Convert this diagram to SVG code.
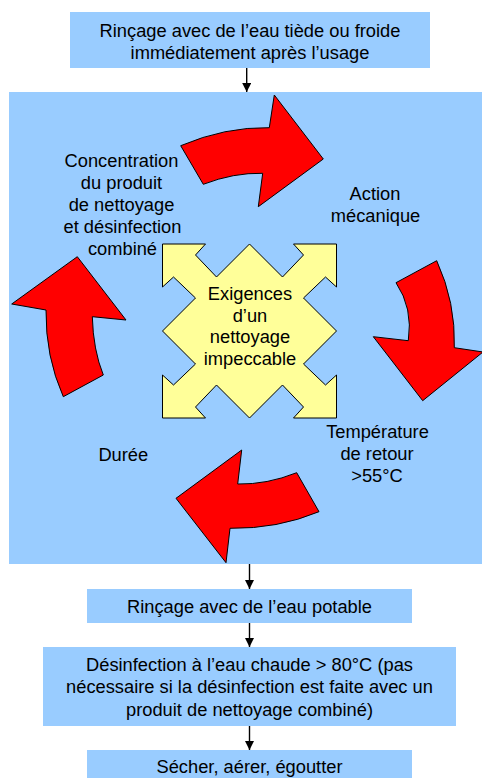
<svg xmlns="http://www.w3.org/2000/svg" width="482" height="778" viewBox="0 0 482 778">
<defs>
<style>
.box{fill:#99CCFF;stroke:none}
.t{font-family:"Liberation Sans",Arial,sans-serif;font-size:18.3px;fill:#000;text-anchor:middle}
.red{fill:#FF0000;stroke:#000;stroke-width:1;stroke-linejoin:miter}
.yel{fill:#FFFF99;stroke:#000;stroke-width:1}
.con{stroke:#000;stroke-width:1.4;fill:none}
</style>
<marker id="ah" viewBox="0 0 10 10" refX="10" refY="5" markerWidth="9" markerHeight="9" markerUnits="userSpaceOnUse" orient="auto">
<path d="M0,0 L10,5 L0,10 z" fill="#000"/>
</marker>
</defs>
<rect width="482" height="778" fill="#fff"/>

<g id="panel">
<rect class="box" x="9" y="92" width="474" height="472"/>
</g>

<g id="n-rincage-tiede">
<rect class="box" x="70" y="12" width="360" height="56"/>
<text class="t" x="250" y="36.5">Rinçage avec de l’eau tiède ou froide</text>
<text class="t" x="250" y="58.5">immédiatement après l’usage</text>
</g>

<g id="cycle-arrows">
<path id="arrow-top" class="red" d="M180.7,145.7 Q225,126.8 269.3,127.7 L274.3,95 L323.3,159 L258.3,206.7 L262.7,173.3 Q233.6,172.6 203.3,184.3 Z"/>
<path id="arrow-right" class="red" d="M396,282.7 L436.7,260.7 Q455.8,302.4 454.3,347.7 L483,352 L422.7,400.7 L373.3,336.7 L408.3,340.7 Q413.2,308.2 396,282.7 Z"/>
<path id="arrow-bottom" class="red" d="M319,511.7 Q277.5,529 230,528.3 L226,562.7 L176,498.3 L241.7,450 L237.7,484 Q267,484.6 296.7,472.7 Z"/>
<path id="arrow-left" class="red" d="M63.3,396.7 Q45.4,356.6 46,310 L11.7,304 L77.3,256.7 L126,320 L92.3,316.7 Q93.2,350 103.3,375 Z"/>
</g>

<g id="n-exigences">
<polygon class="yel" points="249.5,244 282.5,277 303.5,255 293.5,244 336.5,244 336.5,287 325.5,277 303.5,298 336.5,331 303.5,364 325.5,385 336.5,375 336.5,418 293.5,418 303.5,407 282.5,385 249.5,418 216.5,385 195.5,407 205.5,418 162.5,418 162.5,375 173.5,385 195.5,364 162.5,331 195.5,298 173.5,277 162.5,287 162.5,244 205.5,244 195.5,255 216.5,277"/>
<text class="t" x="250" y="300">Exigences</text>
<text class="t" x="250" y="321.7">d’un</text>
<text class="t" x="250" y="343.3">nettoyage</text>
<text class="t" x="250" y="365">impeccable</text>
</g>

<g id="n-concentration">
<text class="t" x="121.5" y="166.7">Concentration</text>
<text class="t" x="121.5" y="188.7">du produit</text>
<text class="t" x="121.5" y="210.7">de nettoyage</text>
<text class="t" x="122.5" y="233">et désinfection</text>
<text class="t" x="122.5" y="255">combiné</text>
</g>

<g id="n-action">
<text class="t" x="375" y="200">Action</text>
<text class="t" x="375.5" y="221.5">mécanique</text>
</g>

<g id="n-temperature">
<text class="t" x="377.5" y="438.3">Température</text>
<text class="t" x="377" y="460">de retour</text>
<text class="t" x="377" y="482.3">&gt;55°C</text>
</g>

<g id="n-duree">
<text class="t" x="123.3" y="460.7">Durée</text>
</g>

<g id="n-rincage-potable">
<rect class="box" x="87" y="589" width="325" height="34"/>
<text class="t" x="249.5" y="612.5">Rinçage avec de l’eau potable</text>
</g>

<g id="n-desinfection">
<rect class="box" x="43" y="647" width="413" height="79"/>
<text class="t" x="249.5" y="671">Désinfection à l’eau chaude &gt; 80°C (pas</text>
<text class="t" x="249.5" y="693.3">nécessaire si la désinfection est faite avec un</text>
<text class="t" x="249.5" y="715.7">produit de nettoyage combiné)</text>
</g>

<g id="n-secher">
<rect class="box" x="87" y="750" width="325" height="30"/>
<text class="t" x="249.5" y="773">Sécher, aérer, égoutter</text>
</g>

<g id="connectors">
<line class="con" x1="246.7" y1="68" x2="246.7" y2="92" marker-end="url(#ah)"/>
<line class="con" x1="249.5" y1="564" x2="249.5" y2="589" marker-end="url(#ah)"/>
<line class="con" x1="249.5" y1="623" x2="249.5" y2="647" marker-end="url(#ah)"/>
<line class="con" x1="249.5" y1="726" x2="249.5" y2="750" marker-end="url(#ah)"/>
</g>
</svg>
